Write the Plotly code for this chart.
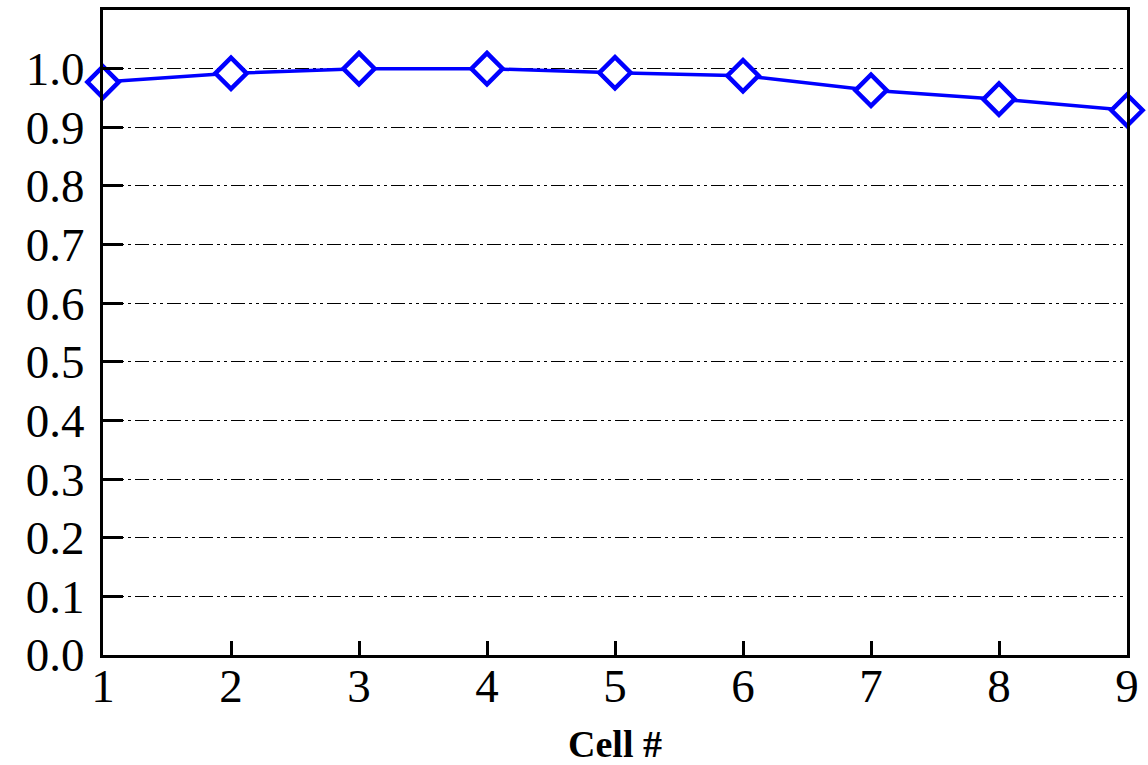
import plotly.graph_objects as go

cells = [1, 2, 3, 4, 5, 6, 7, 8, 9]
values = [0.977, 0.992, 1.0, 1.0, 0.993, 0.988, 0.963, 0.948, 0.929]
x_ticks = [1, 2, 3, 4, 5, 6, 7, 8, 9]
y_ticks = [0.0, 0.1, 0.2, 0.3, 0.4, 0.5, 0.6, 0.7, 0.8, 0.9, 1.0]
y_labels = ["0.0", "0.1", "0.2", "0.3", "0.4", "0.5", "0.6", "0.7", "0.8", "0.9", "1.0"]

fig = go.Figure()
fig.add_trace(go.Scatter(
    x=cells, y=values, mode="lines+markers",
    line=dict(color="#0000ff", width=3.5),
    marker=dict(symbol="diamond", size=24, color="white",
                line=dict(color="#0000ff", width=4.5)),
    cliponaxis=False, showlegend=False,
))

font = "Liberation Serif, Times New Roman, serif"
fig.update_layout(
    width=1148, height=765,
    margin=dict(l=103, r=21, t=7, b=108),
    paper_bgcolor="white", plot_bgcolor="white",
    font=dict(family=font, color="black"),
    xaxis=dict(
        range=[1, 9], tickvals=x_ticks, ticktext=[str(v) for v in x_ticks],
        ticks="inside", ticklen=14, tickwidth=3, tickcolor="black",
        showline=True, linewidth=3, linecolor="black", mirror=True,
        showgrid=False, zeroline=False,
        tickfont=dict(size=47, family=font),
        ticklabelstandoff=-12,
        title=dict(text="<b>Cell #</b>", font=dict(size=38, family=font), standoff=19),
    ),
    yaxis=dict(
        range=[0, 1.1], tickvals=y_ticks, ticktext=y_labels,
        ticks="inside", ticklen=20, tickwidth=3, tickcolor="black",
        showline=True, linewidth=3, linecolor="black", mirror=True,
        showgrid=True, gridcolor="black", gridwidth=1,
        griddash="14px,4px,3px,4px,3px,4px",
        zeroline=False,
        tickfont=dict(size=47, family=font),
        ticklabelstandoff=6,
    ),
)

fig.write_html("out.html", config={"displayModeBar": False},
               post_script="document.body.style.margin='0';")
